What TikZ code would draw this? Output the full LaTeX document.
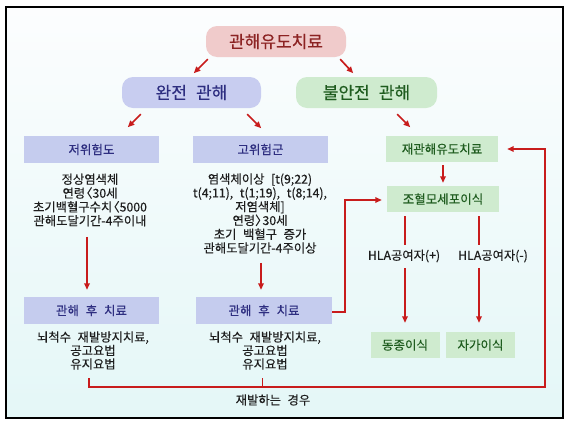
\documentclass[tikz,border=0pt]{standalone}
\usepackage{fontspec}
\setmainfont{Noto Sans CJK KR}[WordSpace=2.4, FakeBold=0.3]
\usetikzlibrary{arrows.meta,calc}
\definecolor{arrred}{HTML}{C81C1C}
\definecolor{pinkc}{HTML}{F0CBCB}
\definecolor{topt}{HTML}{8C2323}
\definecolor{bluec}{HTML}{C8CDF0}
\definecolor{bluer}{HTML}{C5CCEE}
\definecolor{bluet}{HTML}{2E2E80}
\definecolor{greenc}{HTML}{CFEBCF}
\definecolor{greent}{HTML}{1F5C1F}
\definecolor{bodyt}{HTML}{1E1E1E}
\definecolor{bgtop}{HTML}{FCFDFE}
\definecolor{bgbot}{HTML}{E4F7F7}
\tikzset{
  rbox/.style={rounded corners=11pt, minimum height=31pt, inner sep=0pt, font=\fontsize{17}{20}\selectfont},
  sbox/.style={minimum height=27pt, inner sep=0pt, font=\fontsize{12.5}{15}\selectfont},
  body/.style={align=center, inner sep=0pt, text=bodyt, font=\fontsize{12.3}{13.8}\selectfont},
  arr/.style={draw=arrred, line width=1.7pt, -{Triangle[length=6.5pt,width=5.5pt]}},
  ln/.style={draw=arrred, line width=1.7pt},
}
\begin{document}
\begin{tikzpicture}[x=1pt,y=-1pt]
\useasboundingbox (0,0) rectangle (572,426);
\fill[white] (0,0) rectangle (572,426);
\shade[top color=bgtop, bottom color=bgbot] (6,7) rectangle (563,418);
\draw[line width=1.8pt, black] (6,7) rectangle (563,418);

% top levels
\node[rbox, fill=pinkc, text=topt, minimum width=140pt] (top) at (276,41.5) {관해유도치료};
\node[rbox, fill=bluec, text=bluet, minimum width=139pt] (full) at (191.5,92.5) {완전 관해};
\node[rbox, fill=greenc, text=greent, minimum width=141pt] (part) at (366.5,92.5) {불안전 관해};

% risk groups
\node[sbox, fill=bluer, text=bluet, minimum width=135pt] (low) at (91.5,149.5) {저위험도};
\node[sbox, fill=bluer, text=bluet, minimum width=135pt] (high) at (260.5,149.5) {고위험군};
\node[sbox, fill=greenc, text=greent, minimum width=112pt, minimum height=26pt] (re) at (442,149) {재관해유도치료};
\node[sbox, fill=greenc, text=greent, minimum width=112pt, minimum height=26pt] (sct) at (443,199) {조혈모세포이식};

\node[body] (lowtxt) at (90,200) {정상염색체\\연령\kern-0.4em〈30세\\초기백혈구수치\kern-0.4em〈5000\\관해도달기간-4주이내};
\node[body] (hightxt) at (260,213.5) {염색체이상 [t(9;22)\\t(4;11), t(1;19), t(8;14),\\저염색체]\\연령〉\kern-0.4em30세\\초기 백혈구 증가\\관해도달기간-4주이상};

% post remission
\node[sbox, fill=bluer, text=bluet, minimum width=135pt] (post1) at (91.5,310.5) {관해 후 치료};
\node[sbox, fill=bluer, text=bluet, minimum width=136pt] (post2) at (264,310.5) {관해 후 치료};
\node[body, font=\fontsize{12.3}{13.5}\selectfont] (rem1) at (93,350.5) {뇌척수 재발방지치료,\\공고요법\\유지요법};
\node[body, font=\fontsize{12.3}{13.5}\selectfont] (rem2) at (265,350.5) {뇌척수 재발방지치료,\\공고요법\\유지요법};

% transplant
\node[body] (hlap) at (404,256) {HLA공여자(+)};
\node[body] (hlam) at (493,256) {HLA공여자(-)};
\node[sbox, fill=greenc, text=greent, minimum width=69pt, minimum height=26pt] (allo) at (405,345) {동종이식};
\node[sbox, fill=greenc, text=greent, minimum width=69pt, minimum height=26pt] (auto) at (480.5,345) {자가이식};

\node[body] (rel) at (273,400) {재발하는 경우};

% diagonal arrows
\draw[arr] ([shift={(2,2)}]top.south west) -- ++(-14,14);
\draw[arr] ([shift={(-6,2)}]top.south east) -- ++(13,14);
\draw[arr] ([shift={(19,6)}]full.south west) -- ++(-13,13);
\draw[arr] ([shift={(-14,6)}]full.south east) -- ++(14,14);
\draw[arr] ([shift={(-40,6)}]part.south east) -- ++(13,13);

% vertical arrows
\draw[arr] ([shift={(-4.5,-60)}]post1.north) -- ([shift={(-4.5,-7)}]post1.north);
\draw[arr] ([shift={(-3,-34)}]post2.north) -- ([shift={(-3,-7)}]post2.north);

% to transplant
\draw[arr] ([shift={(0,1.5)}]post2.east) -- ++(13,0) |- ([shift={(-5,1)}]sct.west);
\draw[arr] ([shift={(1,3)}]re.south) -- ([shift={(0,-3)}]sct.north);
\draw[ln] ([shift={(1,4)}]sct.south -| hlap.north) -- ++(0,29);
\draw[ln] ([shift={(-1.5,4)}]sct.south -| auto.north) -- ++(0,29);
\draw[arr] ([shift={(1,6)}]hlap.south) -- ([shift={(0,-9)}]allo.north);
\draw[arr] ([shift={(-1.5,-64)}]auto.north) -- ([shift={(-1.5,-9)}]auto.north);

% relapse feedback
\coordinate (fbL) at (89,378);
\coordinate (fbM) at (262.5,378);
\coordinate (fbR) at (545,387);
\draw[arr] (fbL) -- (fbL |- fbR) -- (fbR) |- ([xshift=9pt]re.east);
\draw[ln] (fbM) -- (fbM |- fbR);
\end{tikzpicture}
\end{document}
